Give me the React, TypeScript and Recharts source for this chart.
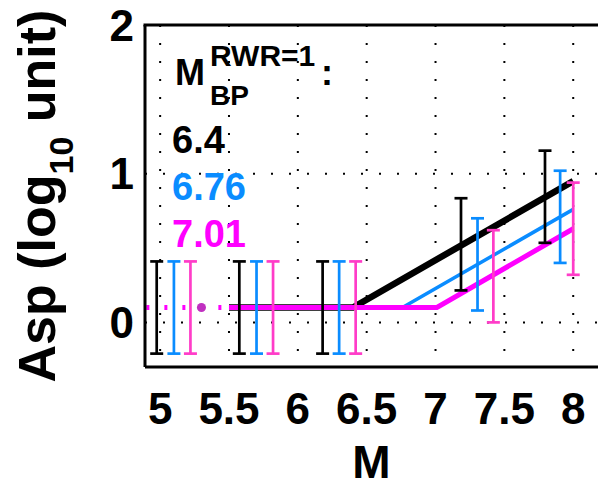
import {
  CartesianGrid,
  ComposedChart,
  ErrorBar,
  Label,
  Legend,
  Line,
  Scatter,
  XAxis,
  YAxis,
} from "recharts";

const FONT = '"Liberation Sans", Arial, Helvetica, sans-serif';
const BLACK = "#000000";
const BLUE = "#0a8cff";
const MAGENTA = "#ff00ff";
const PINK = "#ff3cc8";

const CHART_W = 598;
const CHART_H = 486;
const PLOT_LEFT = 145;
const PLOT_TOP = 25;

// axes
const xTicks = [5, 5.5, 6, 6.5, 7, 7.5, 8];
const yTicks = [0, 1, 2];
const xDomain = [4.89, 8.18];
const yDomain = [-0.3, 2];

// model lines (M, Asp)
const blackLine = [
  { m: 5.5, asp: 0.1 },
  { m: 6.4, asp: 0.1 },
  { m: 8.0, asp: 0.95 },
];
const blueLine = [
  { m: 5.5, asp: 0.1 },
  { m: 6.76, asp: 0.1 },
  { m: 8.0, asp: 0.76 },
];
const magentaLine = [
  { m: 5.5, asp: 0.1 },
  { m: 7.01, asp: 0.1 },
  { m: 8.0, asp: 0.63 },
];
const magentaDotted = [
  { m: 4.9, asp: 0.1 },
  { m: 5.5, asp: 0.1 },
];
const magentaMarker = [{ m: 5.3, asp: 0.1 }];

// error bars: x position, centre, half-range
const blackBarM = [4.975, 5.575, 6.18, 7.185, 7.795];
const blackBarAsp = [0.1, 0.1, 0.1, 0.525, 0.845];
const blueBarM = [5.1, 5.7, 6.3, 7.305, 7.905];
const blueBarAsp = [0.1, 0.1, 0.1, 0.39, 0.71];
const pinkBarM = [5.22, 5.82, 6.42, 7.42, 8.0];
const pinkBarAsp = [0.1, 0.1, 0.1, 0.31, 0.63];
const barErr = [0.31, 0.31, 0.31, 0.31, 0.31];

const legendValues = ["6.4", "6.76", "7.01"];
const legendColors = [BLACK, BLUE, MAGENTA];

const toBars = (ms: number[], asps: number[]) =>
  ms.map((m, i) => ({ m, asp: asps[i], err: barErr[i] }));

const emptyShape = () => <g />;

function LegendBox() {
  return (
    <svg width={CHART_W} height={260} style={{ overflow: "visible" }}>
      {/* top edge of the axes box */}
      <line
        x1={PLOT_LEFT - 1.5}
        y1={PLOT_TOP}
        x2={CHART_W}
        y2={PLOT_TOP}
        stroke={BLACK}
        strokeWidth={3}
      />
      <g fontFamily={FONT} fontWeight={700}>
        <text x={175} y={85} fontSize={36} fill={BLACK}>
          M
        </text>
        <text x={210} y={66} fontSize={30} fill={BLACK}>
          RWR=1
        </text>
        <text x={210} y={105} fontSize={28} fill={BLACK}>
          BP
        </text>
        <text x={321} y={85} fontSize={36} fill={BLACK}>
          :
        </text>
        {legendValues.map((v, i) => (
          <text
            key={v}
            x={172}
            y={153 + i * 47}
            fontSize={38}
            fill={legendColors[i]}
          >
            {v}
          </text>
        ))}
      </g>
    </svg>
  );
}

export default function App() {
  const tickStyle = {
    fill: BLACK,
    fontSize: 44,
    fontWeight: 700,
    fontFamily: FONT,
  };
  const barStroke = 2.7;
  return (
    <div style={{ position: "absolute", left: 0, top: 0, width: CHART_W, height: CHART_H, overflow: "hidden" }}>
      <ComposedChart
        width={CHART_W}
        height={CHART_H}
        margin={{ top: PLOT_TOP, right: 0, bottom: 0, left: 0 }}
      >
        <CartesianGrid
          stroke={BLACK}
          strokeWidth={2}
          strokeDasharray="2 16"
          horizontalValues={yTicks}
          verticalValues={xTicks}
        />
        <XAxis
          dataKey="m"
          type="number"
          domain={xDomain}
          ticks={xTicks}
          interval={0}
          height={119}
          tickSize={0}
          tickMargin={26}
          tickLine={false}
          axisLine={{ stroke: BLACK, strokeWidth: 3 }}
          tick={tickStyle}
        >
          <Label
            content={(props: any) => {
              const vb = props.viewBox;
              return (
                <text
                  x={vb.x + vb.width / 2}
                  y={vb.y + 111}
                  textAnchor="middle"
                  fontSize={46}
                  fontWeight={700}
                  fontFamily={FONT}
                  fill={BLACK}
                >
                  M
                </text>
              );
            }}
          />
        </XAxis>
        <YAxis
          dataKey="asp"
          type="number"
          domain={yDomain}
          ticks={yTicks}
          interval={0}
          width={PLOT_LEFT}
          tickSize={0}
          tickMargin={11}
          tickLine={false}
          axisLine={{ stroke: BLACK, strokeWidth: 3 }}
          tick={tickStyle}
        >
          <Label
            content={(props: any) => {
              const vb = props.viewBox;
              const cx = 55;
              const cy = vb.y + vb.height / 2;
              return (
                <text
                  x={cx}
                  y={cy}
                  transform={`rotate(-90, ${cx}, ${cy})`}
                  textAnchor="middle"
                  fontSize={52}
                  fontWeight={700}
                  fontFamily={FONT}
                  fill={BLACK}
                >
                  Asp (log
                  <tspan fontSize={34} dy={18}>
                    10
                  </tspan>
                  <tspan dy={-18}> unit)</tspan>
                </text>
              );
            }}
          />
        </YAxis>
        <Legend
          layout="vertical"
          align="center"
          verticalAlign="middle"
          wrapperStyle={{ left: 0, top: 0, width: CHART_W, height: 260 }}
          content={() => <LegendBox />}
        />

        <Line
          data={blackLine}
          dataKey="asp"
          stroke={BLACK}
          strokeWidth={6.5}
          dot={false}
          isAnimationActive={false}
        />
        <Line
          data={blueLine}
          dataKey="asp"
          stroke={BLUE}
          strokeWidth={3.5}
          dot={false}
          isAnimationActive={false}
        />
        <Line
          data={magentaLine}
          dataKey="asp"
          stroke={MAGENTA}
          strokeWidth={5}
          dot={false}
          isAnimationActive={false}
        />
        <Line
          data={magentaDotted}
          dataKey="asp"
          stroke={MAGENTA}
          strokeWidth={5}
          strokeDasharray="3 15"
          dot={false}
          isAnimationActive={false}
        />
        <Scatter
          data={magentaMarker}
          dataKey="asp"
          fill="#c030c0"
          shape="circle"
          isAnimationActive={false}
        />

        <Scatter
          data={toBars(blackBarM, blackBarAsp)}
          dataKey="asp"
          shape={emptyShape}
          isAnimationActive={false}
        >
          <ErrorBar dataKey="err" direction="y" width={6.5} stroke={BLACK} strokeWidth={barStroke} isAnimationActive={false} />
        </Scatter>
        <Scatter
          data={toBars(blueBarM, blueBarAsp)}
          dataKey="asp"
          shape={emptyShape}
          isAnimationActive={false}
        >
          <ErrorBar dataKey="err" direction="y" width={6.5} stroke={BLUE} strokeWidth={barStroke} isAnimationActive={false} />
        </Scatter>
        <Scatter
          data={toBars(pinkBarM, pinkBarAsp)}
          dataKey="asp"
          shape={emptyShape}
          isAnimationActive={false}
        >
          <ErrorBar dataKey="err" direction="y" width={6.5} stroke={PINK} strokeWidth={barStroke} isAnimationActive={false} />
        </Scatter>
      </ComposedChart>
    </div>
  );
}
